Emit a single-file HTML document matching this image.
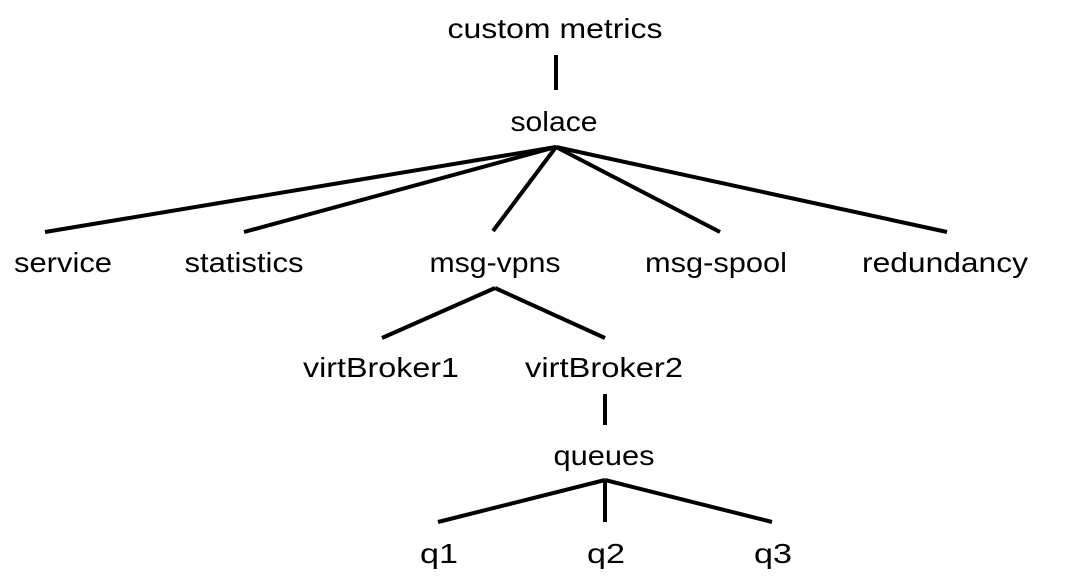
<!DOCTYPE html>
<html><head><meta charset="utf-8"><style>
html,body{margin:0;padding:0;background:#fff;}
svg{display:block;}
text{font-family:"Liberation Sans",sans-serif;font-size:28px;fill:#000;text-anchor:middle;}
line{stroke:#000;stroke-width:4;}
</style></head><body>
<svg width="1066" height="582" viewBox="0 0 1066 582">
<text x="555" y="38" textLength="215" lengthAdjust="spacingAndGlyphs">custom metrics</text>
<line x1="556" y1="55" x2="556" y2="90"/>
<text x="554" y="131" textLength="87" lengthAdjust="spacingAndGlyphs">solace</text>
<line x1="556" y1="147" x2="45" y2="232"/>
<line x1="556" y1="147" x2="244" y2="232"/>
<line x1="556" y1="147" x2="493" y2="231"/>
<line x1="556" y1="147" x2="720" y2="232"/>
<line x1="556" y1="147" x2="947" y2="232"/>
<text x="63" y="272" textLength="98" lengthAdjust="spacingAndGlyphs">service</text>
<text x="244" y="272" textLength="119" lengthAdjust="spacingAndGlyphs">statistics</text>
<text x="495" y="272" textLength="131" lengthAdjust="spacingAndGlyphs">msg-vpns</text>
<text x="716" y="272" textLength="142" lengthAdjust="spacingAndGlyphs">msg-spool</text>
<text x="945" y="272" textLength="166" lengthAdjust="spacingAndGlyphs">redundancy</text>
<line x1="495" y1="288" x2="382" y2="338"/>
<line x1="495" y1="288" x2="605" y2="338"/>
<text x="381" y="377" textLength="156" lengthAdjust="spacingAndGlyphs">virtBroker1</text>
<text x="604" y="377" textLength="158" lengthAdjust="spacingAndGlyphs">virtBroker2</text>
<line x1="605" y1="394" x2="605" y2="425"/>
<text x="604" y="465" textLength="101" lengthAdjust="spacingAndGlyphs">queues</text>
<line x1="605" y1="480" x2="438" y2="522"/>
<line x1="605" y1="480" x2="605" y2="522"/>
<line x1="605" y1="480" x2="772" y2="522"/>
<text x="439" y="563" textLength="38" lengthAdjust="spacingAndGlyphs">q1</text>
<text x="606" y="563" textLength="38" lengthAdjust="spacingAndGlyphs">q2</text>
<text x="773" y="563" textLength="38" lengthAdjust="spacingAndGlyphs">q3</text>
</svg>
</body></html>
